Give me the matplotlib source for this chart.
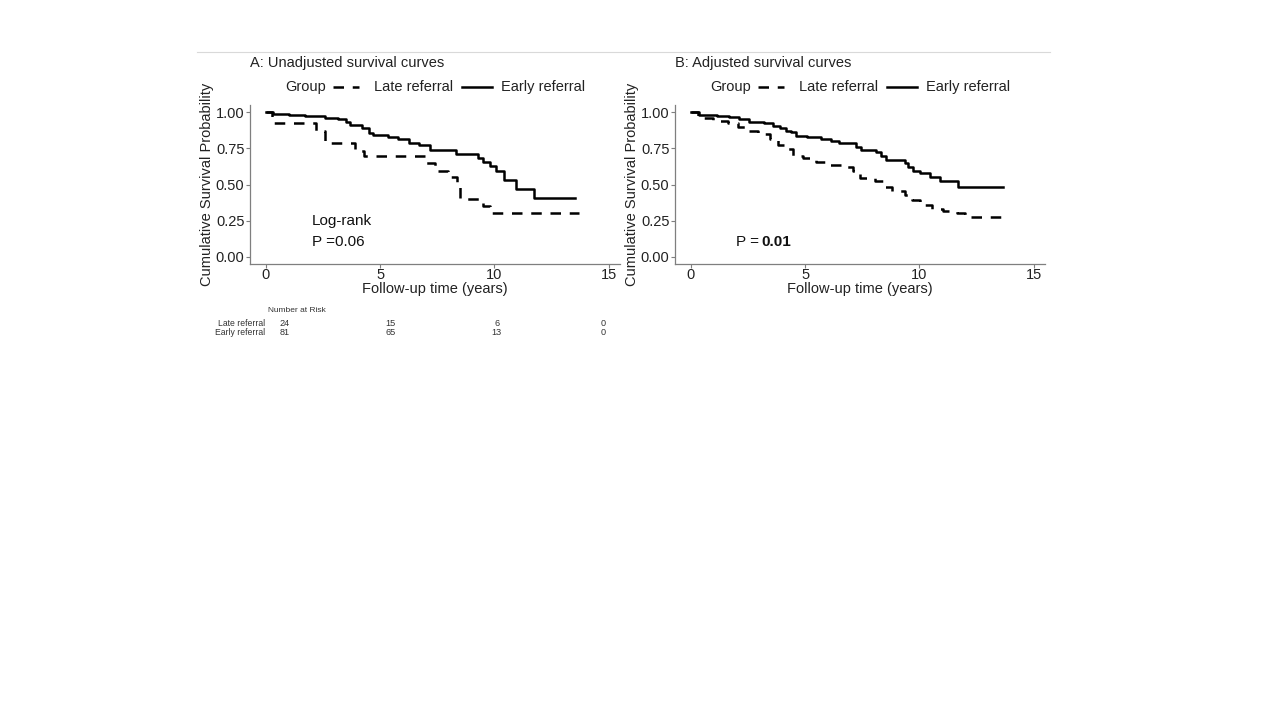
import numpy as np
import matplotlib.pyplot as plt
from matplotlib.lines import Line2D
from matplotlib.transforms import blended_transform_factory

plt.rcParams['font.family'] = ['Liberation Sans', 'DejaVu Sans']

# Panel A: unadjusted Kaplan-Meier curves
a_late_t = [0, 0.26, 2.2, 2.6, 3.9, 4.3, 7.0, 7.4, 7.95, 8.35, 8.5, 9.5, 9.8, 13.7]
a_late_s = [1.0, 0.926, 0.87, 0.787, 0.735, 0.694, 0.65, 0.59, 0.55, 0.48, 0.40, 0.35, 0.30, 0.30]
a_early_t = [0, 0.3, 1.0, 1.72, 2.6, 3.17, 3.5, 3.7, 4.2, 4.5, 4.7, 5.35, 5.8, 6.25, 6.7,
             7.2, 8.3, 9.3, 9.5, 9.8, 10.06, 10.4, 10.93, 11.72, 13.55]
a_early_s = [1.0, 0.99, 0.984, 0.972, 0.962, 0.95, 0.93, 0.915, 0.89, 0.857, 0.845, 0.83, 0.815,
             0.787, 0.775, 0.74, 0.713, 0.683, 0.655, 0.625, 0.59, 0.533, 0.468, 0.405, 0.405]

# Panel B: adjusted curves
b_late_t = [0, 0.29, 0.95, 1.61, 2.05, 2.49, 2.92, 3.44, 3.8, 4.24, 4.46, 4.9, 5.49, 6.07, 6.58,
            7.1, 7.39, 8.05, 8.41, 8.78, 9.36, 9.66, 10.02, 10.54, 11.05, 11.63, 12.0, 13.68]
b_late_s = [1.0, 0.96, 0.942, 0.923, 0.9, 0.872, 0.849, 0.814, 0.774, 0.744, 0.697, 0.686, 0.658,
            0.635, 0.621, 0.593, 0.547, 0.523, 0.484, 0.453, 0.43, 0.39, 0.36, 0.333, 0.314, 0.302,
            0.275, 0.275]
b_early_t = [0, 0.36, 1.15, 1.68, 2.12, 2.56, 2.78, 3.2, 3.57, 3.88, 4.17, 4.39, 4.6, 5.1, 5.7,
             6.15, 6.5, 7.24, 7.46, 8.12, 8.34, 8.53, 9.36, 9.51, 9.73, 10.02, 10.46, 10.9, 11.7, 13.64]
b_early_s = [1.0, 0.983, 0.976, 0.965, 0.953, 0.934, 0.93, 0.923, 0.906, 0.89, 0.872, 0.86, 0.837,
             0.826, 0.814, 0.802, 0.79, 0.756, 0.739, 0.725, 0.697, 0.669, 0.651, 0.623, 0.593,
             0.577, 0.553, 0.523, 0.484, 0.484]

risk_times = [0, 5, 10, 15]
risk_late = [24, 15, 6, 0]
risk_early = [81, 65, 13, 0]

fig = plt.figure(figsize=(12.8, 7.2), dpi=100)
fig.add_artist(Line2D([197/1280, 1050/1280], [1-52/720, 1-52/720], color='#d9d9d9', lw=0.8))

grey = '#7f7f7f'
txt = '#222222'
lw = 1.8
dash = (0, (4.2, 3.5))


def panel(left, late_t, late_s, early_t, early_s, title):
    ax = fig.add_axes([left, 1-264/720, 370/1280, 159/720])
    ax.step(late_t, late_s, where='post', color='black', lw=lw, ls=dash)
    ax.step(early_t, early_s, where='post', color='black', lw=lw)
    ax.set_xlim(-0.7, 15.5)
    ax.set_ylim(-0.05, 1.05)
    ax.set_xticks([0, 5, 10, 15])
    ax.set_yticks([0, 0.25, 0.5, 0.75, 1.0])
    ax.set_yticklabels(['0.00', '0.25', '0.50', '0.75', '1.00'])
    for s in ['top', 'right']:
        ax.spines[s].set_visible(False)
    for s in ['left', 'bottom']:
        ax.spines[s].set_color(grey)
        ax.spines[s].set_linewidth(0.9)
    ax.tick_params(colors=grey, labelcolor=txt, labelsize=10.5, length=3, width=0.8, pad=1)
    ax.tick_params(axis='x', pad=0)
    ax.set_xlabel('Follow-up time (years)', fontsize=10.5, labelpad=0, color=txt)
    ax.set_ylabel('Cumulative Survival Probability', fontsize=10.5, labelpad=1, color=txt)
    ax.text(0.0, 1.265, title, transform=ax.transAxes, fontsize=10.5, color=txt,
            ha='left', va='center')
    # legend row
    ly = 1.115
    ax.text(0.095, ly, 'Group', transform=ax.transAxes, fontsize=10.5, color=txt,
            ha='left', va='center')
    ax.add_line(Line2D([0.225, 0.295], [ly, ly], transform=ax.transAxes, color='black',
                       lw=lw, ls=dash, clip_on=False))
    ax.text(0.335, ly, 'Late referral', transform=ax.transAxes, fontsize=10.5, color=txt,
            ha='left', va='center')
    ax.add_line(Line2D([0.573, 0.655], [ly, ly], transform=ax.transAxes, color='black',
                       lw=lw, clip_on=False))
    ax.text(0.678, ly, 'Early referral', transform=ax.transAxes, fontsize=10.5, color=txt,
            ha='left', va='center')
    return ax


ax1 = panel(250/1280, a_late_t, a_late_s, a_early_t, a_early_s, 'A: Unadjusted survival curves')
ax2 = panel(675/1280, b_late_t, b_late_s, b_early_t, b_early_s, 'B: Adjusted survival curves')

ax1.text(2.0, 0.25, 'Log-rank', fontsize=11, color='#111111', va='center')
ax1.text(2.0, 0.10, 'P =0.06', fontsize=11, color='#111111', va='center')
ax2.text(1.95, 0.10, 'P =', fontsize=11, color='#111111', va='center')
ax2.text(3.1, 0.10, '0.01', fontsize=11, color='#111111', va='center', fontweight='bold')

# number at risk table under panel A
risk_tr = blended_transform_factory(ax1.transData, ax1.transAxes)
ax1.text(0.05, -0.29, 'Number at Risk', transform=ax1.transAxes, fontsize=6, color='#333333',
         va='center')
for row, (name, vals) in enumerate([('Late referral', risk_late), ('Early referral', risk_early)]):
    y = -0.375 - row * 0.057
    ax1.text(0.04, y, name, transform=ax1.transAxes, fontsize=6.2, color='#333333',
             ha='right', va='center')
    for t, v in zip(risk_times, vals):
        ax1.text(t + 0.8 - 0.07 * t, y, str(v), fontsize=6.6, color='#333333',
                 ha='center', va='center', transform=risk_tr)

fig.savefig('out.png', dpi=100)
